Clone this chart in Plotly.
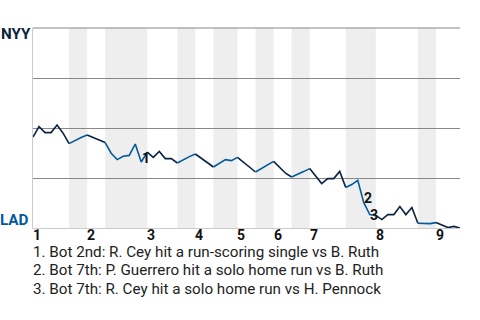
import plotly.graph_objects as go

# Win probability for NYY (1 = NYY wins, 0 = LAD wins), one value per play
win_prob = [0.455, 0.507, 0.477, 0.477, 0.515, 0.474, 0.422, 0.439, 0.452, 0.465,
            0.454, 0.440, 0.427, 0.374, 0.342, 0.359, 0.363, 0.420, 0.330, 0.379,
            0.353, 0.383, 0.347, 0.347, 0.325, 0.342, 0.357, 0.370, 0.347, 0.324,
            0.305, 0.324, 0.342, 0.337, 0.353, 0.329, 0.302, 0.280, 0.299, 0.317,
            0.333, 0.302, 0.274, 0.255, 0.267, 0.282, 0.297, 0.257, 0.222, 0.247,
            0.247, 0.283, 0.203, 0.217, 0.238, 0.127, 0.067, 0.063, 0.042, 0.067,
            0.067, 0.107, 0.067, 0.102, 0.024, 0.022, 0.022, 0.027, 0.013, 0.002,
            0.008, 0.000]

# play index where each half-inning starts (last entry = final play)
half_starts = [0, 6, 9, 12, 19, 24, 27, 30, 34, 37, 40, 43, 46, 52, 57, 64, 67, 71]
inning_labels = ["1", "2", "3", "4", "5", "6", "7", "8", "9"]

# key events: play index and label
event_plays = [18, 55, 56]
event_labels = ["1", "2", "3"]
event_notes = [
    "1. Bot 2nd: R. Cey hit a run-scoring single vs B. Ruth",
    "2. Bot 7th: P. Guerrero hit a solo home run vs B. Ruth",
    "3. Bot 7th: R. Cey hit a solo home run vs H. Pennock",
]
# pixel offsets of event labels from their points (style only)
event_dx = [5, 4, 4]
event_dy = [4, 5, 0]

teams = ["NYY", "LAD"]
NAVY = "#0C2340"
BLUE = "#005A9C"
FS = 15.2

fig = go.Figure()
shapes = []
for k in range(len(half_starts) - 1):
    a, b = half_starts[k], half_starts[k + 1]
    xs = list(range(a, b + 1))
    ys = win_prob[a:b + 1]
    top = (k % 2 == 0)
    fig.add_trace(go.Scatter(x=xs, y=ys, mode="lines",
                             line=dict(color=NAVY if top else BLUE, width=1.6),
                             hoverinfo="skip", showlegend=False))
    if not top:
        shapes.append(dict(type="rect", xref="x", yref="paper", x0=a, x1=b, y0=0, y1=1,
                           fillcolor="#eeeeee", line=dict(width=0), layer="below"))
# top border line (grid at 1.0)
shapes.append(dict(type="line", xref="paper", yref="paper", x0=0, x1=1, y0=1, y1=1,
                   line=dict(color="#888888", width=1.2), layer="above"))

annotations = []
for j, lab in enumerate(inning_labels):
    annotations.append(dict(x=half_starts[2 * j], y=0, xref="x", yref="paper",
                            text="<b>%s</b>" % lab, showarrow=False, xanchor="left",
                            yanchor="top", xshift=-1, yshift=2, borderpad=0,
                            font=dict(family="Roboto", size=14, color="#111")))
for p, lab, dx, dy in zip(event_plays, event_labels, event_dx, event_dy):
    annotations.append(dict(x=p, y=win_prob[p], xref="x", yref="y",
                            text="<b>%s</b>" % lab, showarrow=False, xanchor="center",
                            yanchor="middle", xshift=dx, yshift=dy,
                            font=dict(family="Roboto", size=14, color="#111")))
for n, note in enumerate(event_notes):
    annotations.append(dict(x=0, y=-0.118 - 0.0925 * n, xref="paper", yref="paper",
                            text=note, showarrow=False, xanchor="left", yanchor="middle",
                            xshift=-1, borderpad=0,
                            font=dict(family="Roboto", size=FS, color="#222")))
annotations.append(dict(x=0, y=1, xref="paper", yref="paper", text="<b>NYY</b>",
                        showarrow=False, xanchor="right", yanchor="top", xshift=0, yshift=5,
                        font=dict(family="Roboto", size=FS, color=NAVY)))
annotations.append(dict(x=0, y=0, xref="paper", yref="paper", text="<b>LAD</b>",
                        showarrow=False, xanchor="right", yanchor="bottom", xshift=-2, yshift=-3,
                        font=dict(family="Roboto", size=FS, color=BLUE)))

fig.update_layout(
    width=480, height=320,
    margin=dict(l=33, r=20, t=28, b=92),
    paper_bgcolor="white", plot_bgcolor="white",
    shapes=shapes, annotations=annotations,
    xaxis=dict(range=[0, len(win_prob) - 1], showgrid=False, zeroline=False,
               showticklabels=False, ticks="", showline=True, linecolor="#cccccc", linewidth=1),
    yaxis=dict(range=[0, 1], tickvals=[0.25, 0.5, 0.75, 1.0], showgrid=True,
               gridcolor="#888888", gridwidth=1, zeroline=False, showticklabels=False,
               ticks="", showline=True, linecolor="#cccccc", linewidth=1),
)

fig.write_html("out.html")
